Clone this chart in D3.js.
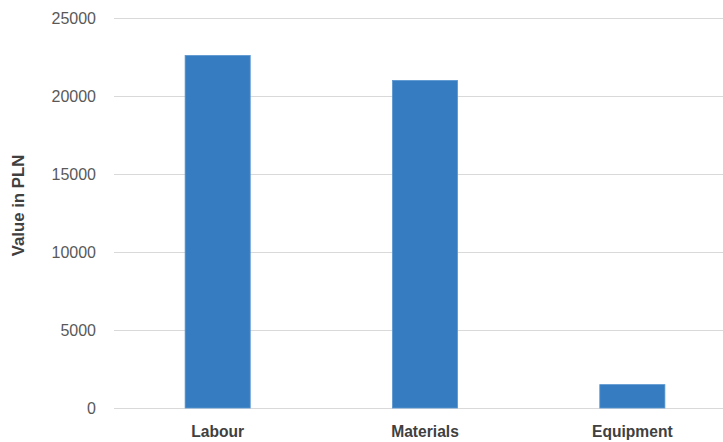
<!DOCTYPE html>
<html><head><meta charset="utf-8">
<script src="https://cdn.jsdelivr.net/npm/d3@7"></script>
<style>body{margin:0;background:#fff}svg{display:block}</style>
</head><body><svg id="c" width="723" height="442"></svg>
<script>
const categories = ["Labour", "Materials", "Equipment"];
const values = [22600, 21000, 1500];
const yTicks = [0, 5000, 10000, 15000, 20000, 25000];
const yTitle = "Value in PLN";

(function () {
const svg = d3.select("#c");
const pL = 114, pR = 736, pT = 18, pB = 408;
const x = d3.scaleBand().domain(categories).range([pL, pR]).paddingInner(0.686).paddingOuter(0.343);
const y = d3.scaleLinear().domain([0, 25000]).range([pB, pT]);
const font = "'Liberation Sans', Arial, sans-serif";

const yAxis = svg.append("g").attr("transform", `translate(${pL},0)`)
  .call(d3.axisLeft(y).tickValues(yTicks).tickSize(-(pR - pL)).tickPadding(18).tickFormat(d3.format("d")));
yAxis.select(".domain").remove();
yAxis.selectAll(".tick line").attr("stroke", "#d9d9d9").attr("stroke-width", 1);
yAxis.selectAll(".tick text").attr("fill", "#595959").attr("font-size", 16).attr("font-family", font);

svg.append("g").selectAll("rect").data(values).join("rect")
  .attr("x", (d, i) => x(categories[i]))
  .attr("width", x.bandwidth())
  .attr("y", d => y(d))
  .attr("height", d => y(0) - y(d))
  .attr("fill", "#357dc0")
  .attr("stroke", "#5b97d1").attr("stroke-width", 0.8);

const xAxis = svg.append("g").attr("transform", `translate(0,${pB})`)
  .call(d3.axisBottom(x).tickSize(0).tickPadding(18));
xAxis.select(".domain").remove();
xAxis.selectAll(".tick text").attr("fill", "#404040").attr("font-size", 15.6).attr("font-weight", "bold").attr("font-family", font);

svg.append("text").attr("transform", `translate(24,205.5) rotate(-90)`)
  .attr("text-anchor", "middle").attr("fill", "#404040").attr("font-size", 16.8).attr("font-weight", "bold")
  .attr("font-family", font).text(yTitle);
})();
</script></body></html>
